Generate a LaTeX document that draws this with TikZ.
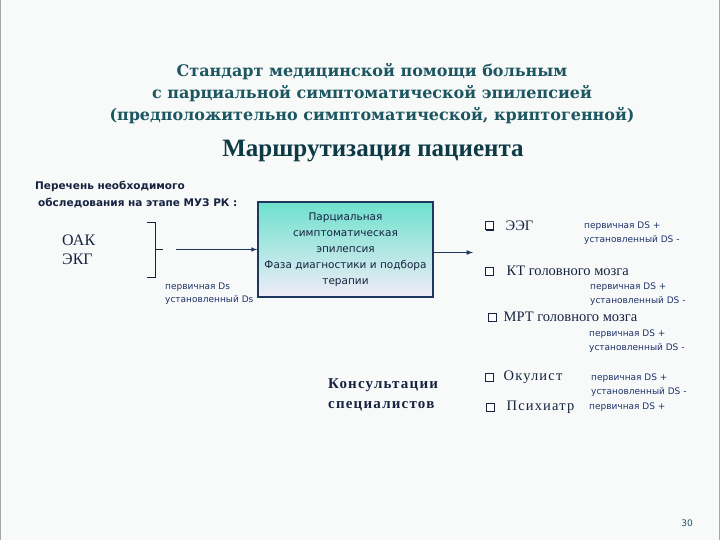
\documentclass[tikz,border=0pt]{standalone}
\usepackage{fontspec}
\setmainfont{Liberation Serif}
\setsansfont{DejaVu Sans}
\newfontfamily\widetitle{DejaVu Serif}
\newfontfamily\spacedserif[LetterSpace=8]{Liberation Serif}
\usetikzlibrary{calc,positioning,shadows}

\definecolor{titleteal}{RGB}{28,86,96}
\definecolor{headteal}{RGB}{14,58,70}
\definecolor{navy}{RGB}{22,34,64}
\definecolor{noteblue}{RGB}{30,50,105}
\definecolor{boxline}{RGB}{30,55,95}
\definecolor{boxtop}{RGB}{110,225,205}
\definecolor{boxmid}{RGB}{115,180,242}
\definecolor{boxbot}{RGB}{240,236,248}
\definecolor{slidebg}{RGB}{248,250,250}

\begin{document}
\begin{tikzpicture}[x=1pt,y=-1pt,>=latex,
  title/.style={draw=none,fill=none,align=center,text=titleteal,font=\widetitle\bfseries\fontsize{16}{22}\selectfont},
  heading/.style={draw=none,fill=none,text=headteal,font=\bfseries\fontsize{25}{28}\selectfont},
  listhead/.style={draw=none,fill=none,anchor=west,inner sep=0pt,text=navy,font=\sffamily\bfseries\fontsize{10.5}{17}\selectfont},
  exam/.style={draw=none,fill=none,anchor=west,inner sep=0pt,align=left,text=navy,font=\fontsize{16}{19}\selectfont},
  note/.style={draw=none,fill=none,anchor=west,inner sep=0pt,align=left,text=noteblue,font=\sffamily\fontsize{9}{13.5}\selectfont},
  diagbox/.style={draw=boxline,line width=1.6pt,minimum width=175pt,minimum height=95pt,
    top color=boxtop,middle color=boxmid,bottom color=boxbot,align=center,text=navy,
    font=\sffamily\fontsize{10.5}{16}\selectfont},
  chk/.style={draw=navy,fill=white,line width=1pt,minimum size=8pt,inner sep=0pt,
    drop shadow={shadow xshift=1.4pt,shadow yshift=-1.4pt,fill=navy,opacity=1}},
  item/.style={draw=none,fill=none,inner sep=0pt,text=navy,font=\fontsize{14.5}{17}\selectfont},
  link/.style={->,draw=boxline,line width=1.2pt}
]
  % Slide
  \fill[slidebg] (0,0) rectangle (720,540);
  \useasboundingbox (0,0) rectangle (720,540);
  \draw[gray!70,line width=1pt] (0.5,0) -- (0.5,540) (719.5,0) -- (719.5,540);

  % Title
  \node[title] (title) at (372,94) {Стандарт медицинской помощи больным\\
    с парциальной симптоматической эпилепсией\\
    (предположительно симптоматической, криптогенной)};
  \node[heading] (route) at (373,151) {Маршрутизация пациента};

  % Examinations
  \node[listhead] (list1) at (35,186) {Перечень необходимого};
  \node[listhead] (list2) at (38,203) {обследования на этапе МУЗ РК :};
  \node[exam] (exams) at (62,249.5) {ОАК\\ЭКГ};
  \draw[navy,line width=0.8pt] (147,222) -- (155,222) -- (155,277) -- (147,277)
    (155,249.5) -- (163,249.5);
  \node[note] (exnote) at (165,293.5) {первичная Ds\\установленный Ds};

  % Diagnostics
  \node[diagbox] (diag) at (345.5,249.5) {Парциальная\\симптоматическая\\эпилепсия\\
    Фаза диагностики и подбора\\терапии};
  \coordinate (lstart) at (176,249.5);
  \draw[navy,line width=1.8pt] (lstart) -- ++(11,0);
  \draw[link,line width=1pt] (lstart) -- (diag.west);
  \coordinate (rend) at (473,252.5);
  \draw[link] (diag.east |- rend) -- (rend);

  % Instrumental tests
  \node[chk] (cEEG) at (489,226) {};
  \node[item,right=12pt of cEEG] (tEEG) {ЭЭГ};
  \node[note] (nEEG) at (584,233) {первичная DS +\\установленный DS -};

  \node[chk] (cCT) at (489,271) {};
  \node[item,right=13pt of cCT] (tCT) {КТ головного мозга};
  \node[note] (nCT) at (590,294) {первичная DS +\\установленный DS -};

  \node[chk] (cMRI) at (492,317) {};
  \node[item,right=7pt of cMRI] (tMRI) {МРТ головного мозга};
  \node[note] (nMRI) at (589,341) {первичная DS +\\установленный DS -};

  % Consultations
  \node[exam,font=\spacedserif\bfseries\fontsize{15}{20}\selectfont] (consult) at (328,394.5) {Консультации\\специалистов};
  \node[chk] (cEye) at (489,377) {};
  \node[item,font=\spacedserif\fontsize{14.5}{17}\selectfont,right=10pt of cEye] (tEye) {Окулист};
  \node[note] (nEye) at (591,385) {первичная DS +\\установленный DS -};
  \node[chk] (cPsy) at (490,407) {};
  \node[item,font=\spacedserif\fontsize{14.5}{17}\selectfont,right=12pt of cPsy] (tPsy) {Психиатр};
  \node[note] (nPsy) at (589,407) {первичная DS +};

  % Page number
  \node[draw=none,fill=none,text=titleteal,font=\sffamily\fontsize{9}{11}\selectfont] (page) at (687,523) {30};
\end{tikzpicture}
\end{document}
